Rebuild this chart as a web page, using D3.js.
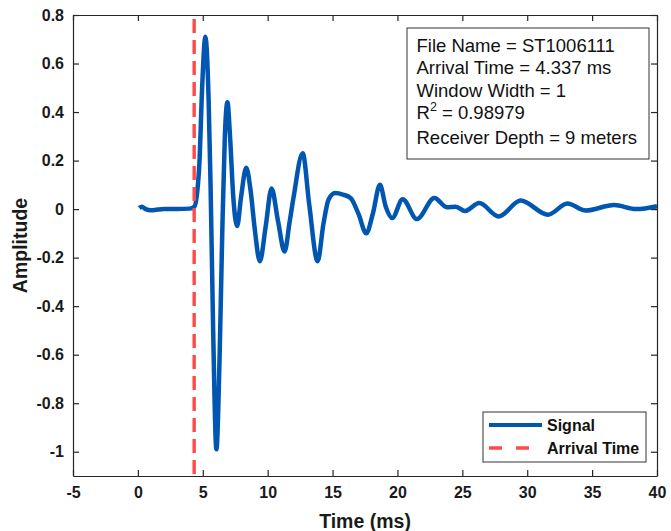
<!DOCTYPE html>
<html>
<head>
<meta charset="utf-8">
<script src="https://cdn.jsdelivr.net/npm/d3@7"></script>
<style>
  body { margin: 0; background: #fff; }
  text { font-family: "Liberation Sans", Arial, sans-serif; }
</style>
</head>
<body>
<div id="my_dataviz"></div>
<script>
// time (ms) and amplitude
var signalTime = [0.1, 0.3, 0.6, 1.0, 1.5, 2.0, 3.0, 4.0, 4.35, 4.55, 4.75, 4.95, 5.2, 5.45, 5.6, 5.8,
  6.05, 6.3, 6.5, 6.7, 6.9, 7.1, 7.35, 7.65, 7.95, 8.35, 8.7, 9.0, 9.4, 9.85, 10.3, 10.8, 11.3,
  11.7, 12.0, 12.7, 13.2, 13.85, 14.3, 14.7, 15.2, 15.8, 16.4, 17.0, 17.6, 18.1, 18.65, 19.1,
  19.6, 20.4, 21.5, 22.85, 23.8, 24.5, 25.2, 26.3, 27.8, 29.5, 31.6, 33.1, 34.5, 36.7, 38.4, 40];
var signalAmp = [0.005, 0.01, 0.0, -0.005, -0.002, 0.0, 0.0, 0.002, 0.01, 0.06, 0.2, 0.5, 0.71, 0.45, 0.1, -0.5,
  -0.99, -0.6, -0.1, 0.3, 0.44, 0.3, 0.05, -0.07, 0.05, 0.17, 0.07, -0.08, -0.215, -0.07, 0.085, -0.05, -0.175,
  -0.05, 0.05, 0.23, 0.02, -0.215, -0.06, 0.04, 0.066, 0.06, 0.045, -0.02, -0.1, -0.02, 0.1, 0.01,
  -0.037, 0.041, -0.041, 0.046, 0.008, 0.01, -0.008, 0.025, -0.03, 0.035, -0.023, 0.023, -0.006, 0.017, 0.0, 0.012];

var arrivalTime = 4.337;
var xTicks = [-5, 0, 5, 10, 15, 20, 25, 30, 35, 40];
var yTicks = [0.8, 0.6, 0.4, 0.2, 0, -0.2, -0.4, -0.6, -0.8, -1];
var infoLines = ["File Name = ST1006111", "Arrival Time = 4.337 ms", "Window Width = 1",
  "R2 = 0.98979", "Receiver Depth = 9 meters"];
var legendNames = ["Signal", "Arrival Time"];

var W = 671, H = 531;
var margin = {top: 15, right: 14, bottom: 55, left: 73},
    width = W - margin.left - margin.right,
    height = H - margin.top - margin.bottom;

var blue = "#0156b2", red = "#ff4a4a", axisCol = "#262626";

var svg = d3.select("#my_dataviz")
  .append("svg")
    .attr("width", W)
    .attr("height", H)
  .append("g")
    .attr("transform", "translate(" + margin.left + "," + margin.top + ")");

var x = d3.scaleLinear().domain([-5, 40]).range([0, width]);
var y = d3.scaleLinear().domain([-1.1, 0.8]).range([height, 0]);

// plain hyphen for negatives, like the original
function fmt(d) { return String(+d.toFixed(1)); }

/** axes, MATLAB style: box with inward ticks on all four sides */
function styleAxis(g) {
  g.select(".domain").attr("stroke", axisCol).attr("stroke-width", 1.2);
  g.selectAll(".tick line").attr("stroke", axisCol).attr("stroke-width", 1.2);
  g.selectAll(".tick text")
    .attr("fill", "#1a1a1a")
    .style("font-size", "16px")
    .style("font-weight", "bold");
}

svg.append("g")
  .attr("transform", "translate(0," + height + ")")
  .call(d3.axisBottom(x).tickValues(xTicks).tickSizeInner(-6).tickSizeOuter(0).tickPadding(11).tickFormat(fmt))
  .call(styleAxis);

svg.append("g")
  .call(d3.axisTop(x).tickValues(xTicks).tickSizeInner(-6).tickSizeOuter(0).tickFormat(""))
  .call(styleAxis);

svg.append("g")
  .call(d3.axisLeft(y).tickValues(yTicks).tickSizeInner(-6).tickSizeOuter(0).tickPadding(9).tickFormat(fmt))
  .call(styleAxis);

svg.append("g")
  .attr("transform", "translate(" + width + ",0)")
  .call(d3.axisRight(y).tickValues(yTicks).tickSizeInner(-6).tickSizeOuter(0).tickFormat(""))
  .call(styleAxis);

/** axis titles */
svg.append("text")
  .attr("x", width / 2)
  .attr("y", height + 52)
  .attr("text-anchor", "middle")
  .style("font-size", "19.5px")
  .style("font-weight", "bold")
  .attr("fill", "#1a1a1a")
  .text("Time (ms)");

svg.append("text")
  .attr("transform", "translate(" + (-46) + "," + (y(-0.15)) + ") rotate(-90)")
  .attr("text-anchor", "middle")
  .style("font-size", "19.5px")
  .style("font-weight", "bold")
  .attr("fill", "#1a1a1a")
  .text("Amplitude");

/** signal trace */
var data = signalTime.map(function(t, i) { return {time: t, value: signalAmp[i]}; });
var line = d3.line()
  .x(function(d) { return x(d.time); })
  .y(function(d) { return y(d.value); })
  .curve(d3.curveMonotoneX);

svg.append("path")
  .datum(data)
  .attr("d", line)
  .attr("fill", "none")
  .attr("stroke", blue)
  .attr("stroke-width", 4.5)
  .attr("stroke-linejoin", "round");

/** arrival time marker */
svg.append("line")
  .attr("x1", x(arrivalTime)).attr("x2", x(arrivalTime))
  .attr("y1", 0).attr("y2", height)
  .attr("stroke", red)
  .attr("stroke-width", 3.4)
  .attr("stroke-dasharray", "14,7")
  .attr("stroke-dashoffset", 17);

/** info box */
var info = svg.append("g").attr("transform", "translate(" + (407 - margin.left) + "," + (28 - margin.top) + ")");
info.append("rect")
  .attr("width", 242).attr("height", 131)
  .attr("fill", "#fff")
  .attr("stroke", "#333").attr("stroke-width", 1);
var lineY = [24, 46, 68.5, 91, 115.5];
infoLines.forEach(function(s, i) {
  var t = info.append("text")
    .attr("x", 9.5)
    .attr("y", lineY[i])
    .style("font-size", "18.5px")
    .attr("fill", "#111");
  if (s.indexOf("R2") === 0) {
    t.append("tspan").text("R");
    t.append("tspan").attr("dy", -8).style("font-size", "12.5px").text("2");
    t.append("tspan").attr("dy", 8).text(s.slice(2));
  } else {
    t.text(s);
  }
});

/** legend */
var leg = svg.append("g").attr("transform", "translate(" + (483 - margin.left) + "," + (412 - margin.top) + ")");
leg.append("rect")
  .attr("width", 163).attr("height", 50)
  .attr("fill", "#fff")
  .attr("stroke", "#333").attr("stroke-width", 1);
leg.selectAll("myLegend")
  .data(legendNames)
  .enter()
  .append("line")
    .attr("x1", 6).attr("x2", 59)
    .attr("y1", function(d, i) { return 13 + i * 23; })
    .attr("y2", function(d, i) { return 13 + i * 23; })
    .attr("stroke", function(d, i) { return i === 0 ? blue : red; })
    .attr("stroke-width", function(d, i) { return i === 0 ? 4 : 3.4; })
    .attr("stroke-dasharray", function(d, i) { return i === 0 ? null : "13,14"; });
leg.selectAll("myLegendText")
  .data(legendNames)
  .enter()
  .append("text")
    .attr("x", 64)
    .attr("y", function(d, i) { return 19 + i * 23; })
    .style("font-size", "16px")
    .style("font-weight", "bold")
    .attr("fill", "#111")
    .text(function(d) { return d; });
</script>
</body>
</html>
